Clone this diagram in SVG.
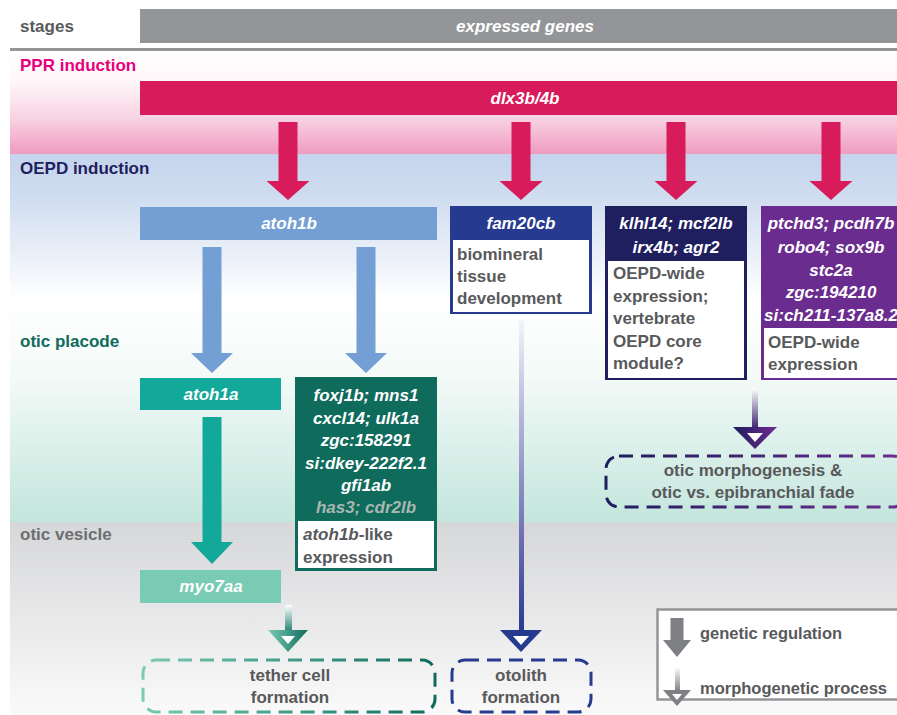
<svg xmlns="http://www.w3.org/2000/svg" width="897" height="715" viewBox="0 0 897 715">
<defs>
<linearGradient id="gPPR" x1="0" y1="51" x2="0" y2="154" gradientUnits="userSpaceOnUse">
<stop offset="0" stop-color="#ffffff"/><stop offset="0.3" stop-color="#fef6f9"/><stop offset="0.65" stop-color="#f8d3e3"/><stop offset="1" stop-color="#ef9bbf"/>
</linearGradient>
<linearGradient id="gOEPD" x1="0" y1="154" x2="0" y2="300" gradientUnits="userSpaceOnUse">
<stop offset="0" stop-color="#c4d4ec"/><stop offset="0.3" stop-color="#d0ddf0"/><stop offset="1" stop-color="#ffffff"/>
</linearGradient>
<linearGradient id="gPlac" x1="0" y1="300" x2="0" y2="522" gradientUnits="userSpaceOnUse">
<stop offset="0" stop-color="#ffffff"/><stop offset="0.35" stop-color="#f3faf8"/><stop offset="1" stop-color="#c3e6dc"/>
</linearGradient>
<linearGradient id="gVes" x1="0" y1="522" x2="0" y2="715" gradientUnits="userSpaceOnUse">
<stop offset="0" stop-color="#d6d7d9"/><stop offset="1" stop-color="#fafafa"/>
</linearGradient>
<linearGradient id="gOto" x1="0" y1="320" x2="0" y2="632" gradientUnits="userSpaceOnUse">
<stop offset="0" stop-color="#f4f4fa"/><stop offset="0.25" stop-color="#c0c0e0"/><stop offset="0.7" stop-color="#6e6eb4"/><stop offset="1" stop-color="#263a8f"/>
</linearGradient>
<linearGradient id="gTetS" x1="0" y1="605" x2="0" y2="632" gradientUnits="userSpaceOnUse">
<stop offset="0" stop-color="#ffffff"/><stop offset="1" stop-color="#1f8070"/>
</linearGradient>
<linearGradient id="gTetH" x1="268" y1="0" x2="308" y2="0" gradientUnits="userSpaceOnUse">
<stop offset="0" stop-color="#79cbb4"/><stop offset="1" stop-color="#0f6b5c"/>
</linearGradient>
<linearGradient id="gMorS" x1="0" y1="388" x2="0" y2="429" gradientUnits="userSpaceOnUse">
<stop offset="0" stop-color="#ffffff"/><stop offset="1" stop-color="#3b2470"/>
</linearGradient>
<linearGradient id="gMorH" x1="733" y1="0" x2="775" y2="0" gradientUnits="userSpaceOnUse">
<stop offset="0" stop-color="#1e1d5e"/><stop offset="1" stop-color="#6a2c8e"/>
</linearGradient>
<linearGradient id="gLegS" x1="0" y1="667" x2="0" y2="691" gradientUnits="userSpaceOnUse">
<stop offset="0" stop-color="#ffffff"/><stop offset="1" stop-color="#7f8083"/>
</linearGradient>
<linearGradient id="gDashMor" x1="605" y1="0" x2="897" y2="0" gradientUnits="userSpaceOnUse">
<stop offset="0" stop-color="#1e1d5e"/><stop offset="1" stop-color="#6a2c8e"/>
</linearGradient>
<linearGradient id="gDashTet" x1="142" y1="0" x2="436" y2="0" gradientUnits="userSpaceOnUse">
<stop offset="0" stop-color="#79cbb4"/><stop offset="1" stop-color="#0f6b5c"/>
</linearGradient>
</defs>
<style>
text{font-family:"Liberation Sans",Arial,sans-serif;font-weight:bold;font-size:17px}
.stage{font-size:17px}
.gene{font-style:italic;fill:#ffffff}
.ctr{text-anchor:middle}
.desc{fill:#58595b}
.dash{fill:none;stroke-width:3;stroke-dasharray:14 8}
.hollow{fill:#ffffff}
</style>

<!-- background bands -->
<g id="background">
<rect x="10" y="51" width="887" height="103" fill="url(#gPPR)"/>
<rect x="10" y="154" width="887" height="146" fill="url(#gOEPD)"/>
<rect x="10" y="300" width="887" height="222" fill="url(#gPlac)"/>
<rect x="10" y="522" width="887" height="193" fill="url(#gVes)"/>
<rect x="140" y="9" width="757" height="34" fill="#939598"/>
<rect x="10" y="48" width="887" height="3" fill="#939598"/>
<text x="525" y="32" class="gene ctr">expressed genes</text>
<text x="20" y="32" class="stage" fill="#58595b">stages</text>
<text x="20" y="71" class="stage" fill="#e6007e">PPR induction</text>
<text x="20" y="174" class="stage" fill="#1f1f5e">OEPD induction</text>
<text x="20" y="347" class="stage" fill="#0f6b5c">otic placode</text>
<text x="20" y="540" class="stage" fill="#6d6e71">otic vesicle</text>
</g>

<!-- connectors -->
<g id="connectors">
<polygon points="278.5,122 297.5,122 297.5,181 309.5,181 288,200 266.5,181 278.5,181" fill="#d81b5a"/>
<polygon points="511.5,122 530.5,122 530.5,181 542.5,181 521,200 499.5,181 511.5,181" fill="#d81b5a"/>
<polygon points="666.5,122 685.5,122 685.5,181 697.5,181 676,200 654.5,181 666.5,181" fill="#d81b5a"/>
<polygon points="821.5,122 840.5,122 840.5,181 852.5,181 831,200 809.5,181 821.5,181" fill="#d81b5a"/>
<polygon points="202.5,247 221.5,247 221.5,353 233,353 212,373 191,353 202.5,353" fill="#739fd4"/>
<polygon points="356.5,247 375.5,247 375.5,353 387,353 366,373 345,353 356.5,353" fill="#739fd4"/>
<polygon points="202.5,417 221.5,417 221.5,542 233,542 212,564 191,542 202.5,542" fill="#12a89a"/>
<!-- morphogenetic: tether -->
<rect x="285" y="605" width="7" height="26" fill="url(#gTetS)"/>
<polygon points="268,630 308,630 288,652" fill="url(#gTetH)"/>
<polygon points="281,636 295,636 288,644" class="hollow"/>
<!-- otolith -->
<rect x="519" y="320" width="5" height="311" fill="url(#gOto)"/>
<polygon points="500,630 542,630 521,652" fill="#263a8f"/>
<polygon points="513,636 529,636 521,645" class="hollow"/>
<!-- otic morphogenesis -->
<rect x="752" y="388" width="6" height="40" fill="url(#gMorS)"/>
<polygon points="733,427 777,427 755,449" fill="url(#gMorH)"/>
<polygon points="747,433 763,433 755,442" class="hollow"/>
</g>

<!-- nodes -->
<g id="dlx3b4b">
<rect x="140" y="81" width="757" height="34" fill="#d81b5a"/>
<text x="525" y="104" class="gene ctr">dlx3b/4b</text>
</g>
<g id="atoh1b">
<rect x="140" y="207" width="297" height="33" fill="#739fd4"/>
<text x="289" y="229" class="gene ctr">atoh1b</text>
</g>
<g id="atoh1a">
<rect x="140" y="378" width="141" height="32" fill="#12a89a"/>
<text x="211" y="400" class="gene ctr">atoh1a</text>
</g>
<g id="myo7aa">
<rect x="140" y="570" width="141" height="33" fill="#79cbb4"/>
<text x="211" y="592" class="gene ctr">myo7aa</text>
</g>
<g id="foxj1b">
<rect x="295" y="377" width="142" height="194" fill="#0f6b5c"/>
<text x="366" y="401" class="gene ctr">foxj1b; mns1</text>
<text x="366" y="424" class="gene ctr">cxcl14; ulk1a</text>
<text x="366" y="446" class="gene ctr">zgc:158291</text>
<text x="366" y="469" class="gene ctr">si:dkey-222f2.1</text>
<text x="366" y="491" class="gene ctr">gfi1ab</text>
<text x="366" y="513" class="gene ctr" style="fill:#a9b7b2">has3; cdr2lb</text>
<rect x="298" y="521" width="136" height="47" fill="#ffffff"/>
<text x="303" y="540" class="desc"><tspan font-style="italic">atoh1b</tspan>-like</text>
<text x="303" y="563" class="desc">expression</text>
</g>
<g id="fam20cb">
<rect x="450" y="206" width="142" height="108" fill="#263a8f"/>
<text x="521" y="229" class="gene ctr">fam20cb</text>
<rect x="453" y="240" width="136" height="72" fill="#ffffff"/>
<text x="457" y="260" class="desc">biomineral</text>
<text x="457" y="282" class="desc">tissue</text>
<text x="457" y="304" class="desc">development</text>
</g>
<g id="klhl14">
<rect x="605" y="206" width="142" height="174" fill="#1f1e5f"/>
<text x="676" y="229" class="gene ctr">klhl14; mcf2lb</text>
<text x="676" y="253" class="gene ctr">irx4b; agr2</text>
<rect x="608" y="261" width="136" height="117" fill="#ffffff"/>
<text x="613" y="279" class="desc">OEPD-wide</text>
<text x="613" y="302" class="desc">expression;</text>
<text x="613" y="324" class="desc">vertebrate</text>
<text x="613" y="347" class="desc">OEPD core</text>
<text x="613" y="369" class="desc">module?</text>
</g>
<g id="ptchd3">
<rect x="761" y="206" width="140" height="174" fill="#6a2c8e"/>
<text x="831" y="229" class="gene ctr">ptchd3; pcdh7b</text>
<text x="831" y="253" class="gene ctr">robo4; sox9b</text>
<text x="831" y="276" class="gene ctr">stc2a</text>
<text x="831" y="298" class="gene ctr">zgc:194210</text>
<text x="831" y="321" class="gene ctr">si:ch211-137a8.2</text>
<rect x="764" y="328" width="137" height="50" fill="#ffffff"/>
<text x="768" y="348" class="desc">OEPD-wide</text>
<text x="768" y="370" class="desc">expression</text>
</g>
<g id="otic-morphogenesis">
<rect x="606" y="456" width="300" height="51" rx="13" class="dash" stroke="url(#gDashMor)"/>
<text x="753" y="476" class="desc ctr">otic morphogenesis &amp;</text>
<text x="753" y="498" class="desc ctr">otic vs. epibranchial fade</text>
</g>
<g id="tether-cell">
<rect x="143" y="660" width="292" height="52" rx="13" class="dash" stroke="url(#gDashTet)"/>
<text x="290" y="681" class="desc ctr">tether cell</text>
<text x="290" y="703" class="desc ctr">formation</text>
</g>
<g id="otolith">
<rect x="452" y="660" width="139" height="52" rx="13" class="dash" stroke="#263a8f"/>
<text x="521" y="681" class="desc ctr">otolith</text>
<text x="521" y="703" class="desc ctr">formation</text>
</g>
<g id="legend">
<rect x="657.5" y="609.5" width="250" height="90" fill="#ffffff" stroke="#939598" stroke-width="2.5"/>
<polygon points="670.5,618 683.5,618 683.5,640 691,640 677,657 663,640 670.5,640" fill="#7f8083"/>
<rect x="675" y="667" width="5" height="24" fill="url(#gLegS)"/>
<polygon points="663,690 691,690 677,706" fill="#7f8083"/>
<polygon points="672,694 682,694 677,700" class="hollow"/>
<text x="700" y="639" class="desc" style="font-size:16.5px">genetic regulation</text>
<text x="700" y="694" class="desc" style="font-size:16.5px">morphogenetic process</text>
</g>
</svg>
